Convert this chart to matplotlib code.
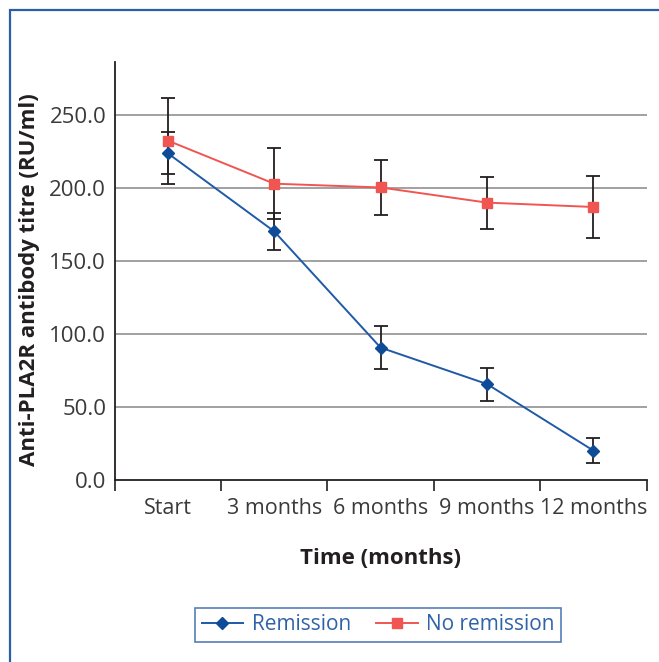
import matplotlib
matplotlib.use("Agg")
import matplotlib.pyplot as plt
from matplotlib.patches import Rectangle
from matplotlib.lines import Line2D

plt.rcParams['font.family'] = ['Open Sans', 'DejaVu Sans']

categories = ["Start", "3 months", "6 months", "9 months", "12 months"]
remission = [223.9, 170.3, 90.5, 65.5, 19.8]
remission_err = [14.6, 12.9, 14.7, 11.3, 8.8]
no_remission = [232.6, 203.0, 200.4, 190.0, 187.0]
no_remission_err = [29.5, 24.5, 19.1, 17.9, 21.3]
yticks = [0, 50, 100, 150, 200, 250]

W, H = 659, 662
fig = plt.figure(figsize=(W / 100, H / 100), dpi=100)
fig.patch.set_facecolor('white')

# outer blue frame (left & top visible)
fig.add_artist(Rectangle((10 / W, -0.1), 1.2, (H - 9.5) / H + 0.1,
                         transform=fig.transFigure, fill=False,
                         edgecolor='#2b5ea7', lw=1.6))

ax = fig.add_axes([114.5 / W, 1 - 479.5 / H, (646.7 - 114.5) / W, (479.5 - 62) / H])
x = list(range(len(categories)))

blue_line = '#1f5aa6'
blue_mk = '#0f4c97'
red = '#f05552'
dark = '#231f20'

ax.errorbar(x, no_remission, yerr=no_remission_err, fmt='none', ecolor=dark,
            elinewidth=1.3, capsize=5, capthick=1.3, zorder=3)
ax.errorbar(x, remission, yerr=remission_err, fmt='none', ecolor=dark,
            elinewidth=1.3, capsize=5, capthick=1.3, zorder=3)
ax.plot(x, no_remission, color=red, lw=1.4, marker='s', markersize=7.5,
        markerfacecolor=red, markeredgecolor=red, zorder=4)
ax.plot(x, remission, color=blue_line, lw=1.4, marker='D', markersize=6.5,
        markerfacecolor=blue_mk, markeredgecolor=blue_mk, zorder=5)

ax.set_xlim(-0.5, len(categories) - 0.5)
ax.set_ylim(0, 286.5)
ax.set_yticks(yticks)
ax.set_yticklabels([f"{v:.1f}" for v in yticks])
ax.set_xticks(x)
ax.set_xticklabels(categories)
ax.set_xticks([i - 0.5 for i in range(len(categories) + 1)], minor=True)
ax.tick_params(axis='x', which='major', length=0, pad=13, labelsize=15.5, labelcolor='#3a3a3a')
ax.tick_params(axis='x', which='minor', length=8, width=1.2, color=dark, direction='out')
ax.tick_params(axis='y', length=0, pad=6, labelsize=16, labelcolor='#3a3a3a')

for v in yticks[1:]:
    ax.axhline(v, color='#9a9a9a', lw=1.3, zorder=1)

for s in ['top', 'right']:
    ax.spines[s].set_visible(False)
for s in ['left', 'bottom']:
    ax.spines[s].set_color(dark)
    ax.spines[s].set_linewidth(1.3)

fig.text(30 / W, 1 - 280 / H, "Anti-PLA2R antibody titre (RU/ml)", rotation=90,
         ha='center', va='center', fontsize=16, fontweight='bold', color=dark)
fig.text(380 / W, 1 - 558 / H, "Time (months)", ha='center', va='center',
         fontsize=16, fontweight='bold', color=dark)

handles = [Line2D([], [], color=blue_line, lw=1.4, marker='D', markersize=6.5,
                  markerfacecolor=blue_mk, markeredgecolor=blue_mk),
           Line2D([], [], color=red, lw=1.4, marker='s', markersize=7.5,
                  markerfacecolor=red, markeredgecolor=red)]
leg = fig.legend(handles, ["Remission", "No remission"], ncol=2,
                 loc='center', bbox_to_anchor=(378 / W, 1 - 625 / H),
                 frameon=True, fancybox=False, fontsize=15,
                 handlelength=2.0, handletextpad=0.4, columnspacing=1.2,
                 borderpad=0.3, labelcolor='#2f63a8')
leg.get_frame().set_edgecolor('#2b5ea7')
leg.get_frame().set_linewidth(1.2)

fig.savefig("out.png", dpi=100)
